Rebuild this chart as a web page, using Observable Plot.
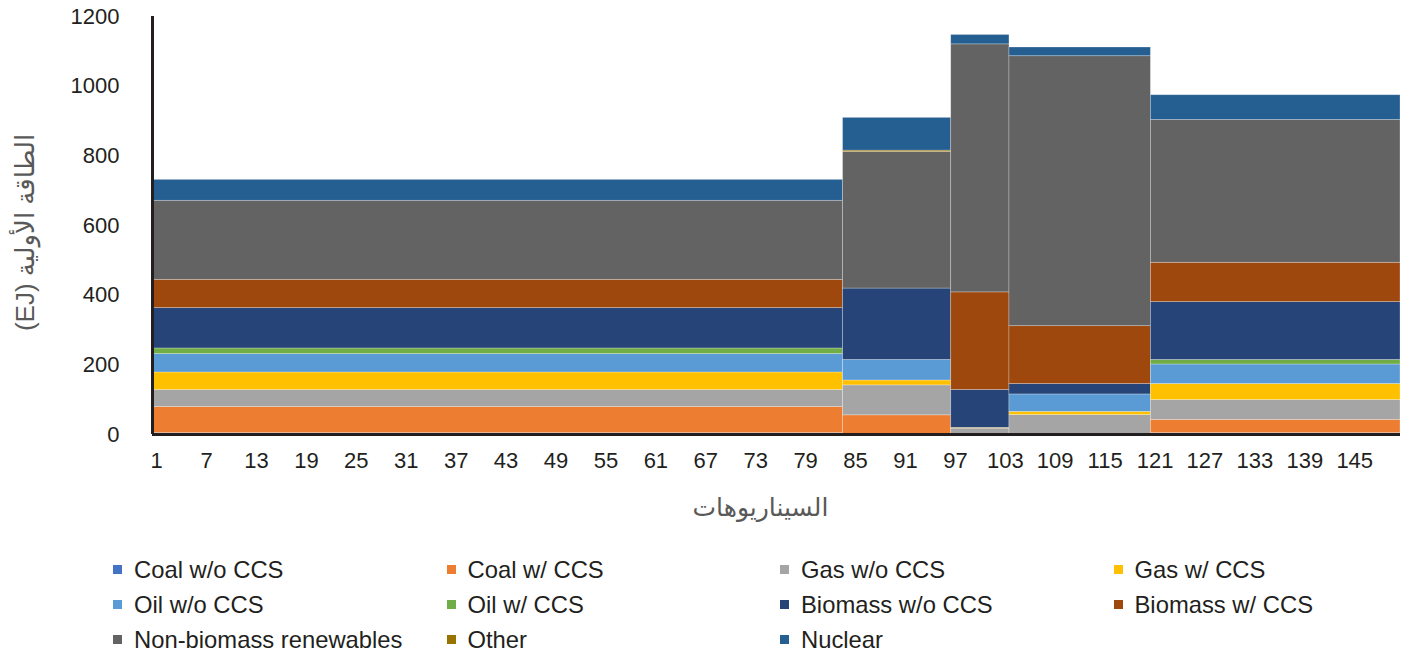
<!DOCTYPE html>
<html>
<head>
<meta charset="utf-8">
<script src="https://cdn.jsdelivr.net/npm/d3@7"></script>
<script src="https://cdn.jsdelivr.net/npm/@observablehq/plot@0.6"></script>
<style>
  body { margin: 0; background: #fff; }
  #chart { position: relative; width: 1407px; height: 658px; font-family: "Liberation Sans", Arial, "DejaVu Sans", sans-serif; }
  .lg-item { position: absolute; height: 35px; line-height: 35px; font-size: 23.8px; color: #231f20; white-space: nowrap; }
  .lg-sw { position: absolute; left: 0; top: 13px; width: 9px; height: 9px; }
  .lg-tx { position: absolute; left: 21px; top: 0; }
</style>
</head>
<body>
<div id="chart"></div>
<script>
// ---- Data ----
const seriesNames = ["Coal w/o CCS", "Coal w/ CCS", "Gas w/o CCS", "Gas w/ CCS", "Oil w/o CCS", "Oil w/ CCS",
  "Biomass w/o CCS", "Biomass w/ CCS", "Non-biomass renewables", "Other", "Nuclear"];
const seriesColors = ["#4472C4", "#ED7D31", "#A5A5A5", "#FFC000", "#5B9BD5", "#70AD47",
  "#264478", "#9E480E", "#636363", "#997300", "#255E91"];

// scenario groups (each group of scenarios shares the same values)
const groupFirst = [1, 84, 97, 104, 121];
const groupLast = [83, 96, 103, 120, 150];

// EJ per group
const coalWithoutCCS    = [4, 0, 0, 0, 4];
const coalWithCCS       = [75, 55, 0, 0, 38];
const gasWithoutCCS     = [49, 86, 17, 56, 57];
const gasWithCCS        = [50, 14, 2, 9, 46];
const oilWithoutCCS     = [53, 59, 0, 50, 56];
const oilWithCCS        = [16, 0, 0, 0, 13];
const biomassWithoutCCS = [116, 205, 109, 30, 166];
const biomassWithCCS    = [81, 0, 280, 166, 113];
const nonBiomassRenew   = [227, 392, 712, 775, 410];
const otherEnergy       = [0, 4, 0, 0, 0];
const nuclearEnergy     = [60, 94, 27, 25, 71];

const xTicks = [1, 7, 13, 19, 25, 31, 37, 43, 49, 55, 61, 67, 73, 79, 85, 91, 97, 103, 109, 115, 121, 127, 133, 139, 145];
const yTicks = [0, 200, 400, 600, 800, 1000, 1200];
const xTitle = "السيناريوهات";
const yTitle = "الطاقة الأولية (EJ)";

// ---- Build table ----
const seriesValues = [coalWithoutCCS, coalWithCCS, gasWithoutCCS, gasWithCCS, oilWithoutCCS, oilWithCCS,
  biomassWithoutCCS, biomassWithCCS, nonBiomassRenew, otherEnergy, nuclearEnergy];
const rows = [];
groupFirst.forEach((first, g) => {
  seriesNames.forEach((name, s) => {
    const v = seriesValues[s][g];
    if (v > 0) rows.push({first, last: groupLast[g], series: name, value: v});
  });
});

const fontFam = '"Liberation Sans", Arial, "DejaVu Sans", sans-serif';
const plot = Plot.plot({
  width: 1407,
  height: 535,
  marginLeft: 152,
  marginRight: 7,
  marginTop: 16,
  marginBottom: 101,
  style: {fontFamily: fontFam, fontSize: "22px", color: "#231f20", background: "white", overflow: "visible"},
  x: {type: "linear", domain: [0.5, 150.5], ticks: xTicks, tickFormat: d => String(d), tickSize: 0, tickPadding: 18, label: null},
  y: {domain: [0, 1200], ticks: yTicks, tickFormat: d => String(d), tickSize: 0, tickPadding: 33, label: null},
  color: {type: "ordinal", domain: seriesNames, range: seriesColors},
  marks: [
    Plot.rectY(rows, {
      x1: d => d.first - 0.5,
      x2: d => d.last + 0.5,
      y: "value",
      fill: "series",
      inset: 0,
      stroke: "white",
      strokeOpacity: 0.35,
      strokeWidth: 0.75
    }),
    Plot.ruleY([0], {stroke: "#231f20", strokeWidth: 3}),
    Plot.ruleX([0.5], {y1: 0, y2: 1200, stroke: "#231f20", strokeWidth: 3}),
    Plot.text([xTitle], {text: d => d, frameAnchor: "bottom", textAnchor: "middle", dx: -16, dy: 73, fill: "#595959", fontSize: 25, lineAnchor: "middle"}),
    Plot.text([yTitle], {text: d => d, frameAnchor: "left", textAnchor: "middle", dx: -127, dy: 7, rotate: -90, fill: "#595959", fontSize: 26, lineAnchor: "middle"})
  ]
});

plot.querySelectorAll("text").forEach(t => {
  if (t.textContent === yTitle) t.setAttribute("direction", "rtl");
});

const chart = document.getElementById("chart");
plot.style.position = "absolute";
plot.style.left = "0px";
plot.style.top = "0px";
chart.appendChild(plot);

// ---- Legend ----
seriesNames.forEach((name, i) => {
  const col = i % 4, row = Math.floor(i / 4);
  const item = document.createElement("div");
  item.className = "lg-item";
  item.style.left = (113 + col * 333.5) + "px";
  item.style.top = (569.5 + row * 35 - 17.5) + "px";
  const sw = document.createElement("div");
  sw.className = "lg-sw";
  sw.style.background = seriesColors[i];
  const tx = document.createElement("span");
  tx.className = "lg-tx";
  tx.textContent = name;
  item.appendChild(sw);
  item.appendChild(tx);
  chart.appendChild(item);
});
</script>
</body>
</html>
